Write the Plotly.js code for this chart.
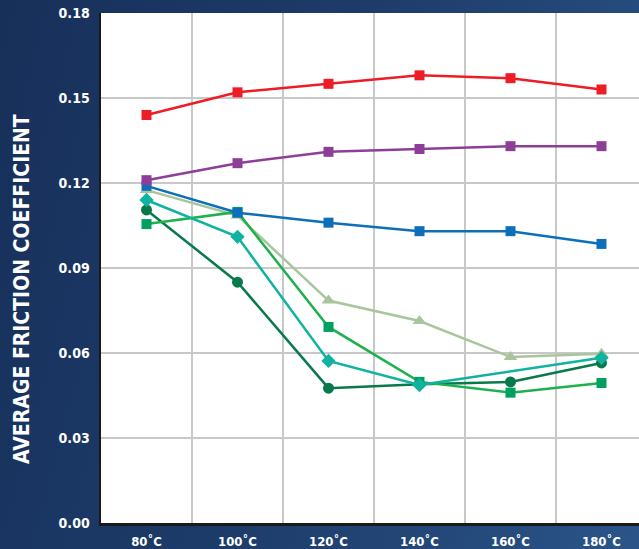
<!DOCTYPE html>
<html>
<head>
<meta charset="utf-8">
<script src="https://cdn.plot.ly/plotly-3.0.1.min.js"></script>
<style>
html,body{margin:0;padding:0;}
body{width:639px;height:549px;overflow:hidden;background:linear-gradient(105deg,#17305a 0%,#1d3b69 45%,#24487a 75%,#2b5589 100%);}
#chart{width:639px;height:549px;}
</style>
</head>
<body>
<div id="chart"></div>
<script>
const categories = ["80˚C","100˚C","120˚C","140˚C","160˚C","180˚C"];
const redValues    = [0.144, 0.152, 0.155, 0.158, 0.157, 0.153];
const purpleValues = [0.121, 0.127, 0.131, 0.132, 0.133, 0.133];
const blueValues   = [0.119, 0.1095, 0.106, 0.103, 0.103, 0.0985];
const oliveValues  = [0.1175, 0.1085, 0.0785, 0.0713, 0.0586, 0.0597];
const greenValues  = [0.1055, 0.1098, 0.0692, 0.0498, 0.0460, 0.0494];
const tealValues   = [0.114, 0.101, 0.0572, 0.0487, null, 0.0583];
const darkValues   = [0.1105, 0.085, 0.0476, 0.0490, 0.0498, 0.0565];
const yTicks = [0, 0.03, 0.06, 0.09, 0.12, 0.15, 0.18];

const xIdx = categories.map((c,i)=>i);
function series(vals, lineColor, markerColor, symbol, size){
  return {x:xIdx, y:vals, type:'scatter', mode:'lines+markers', connectgaps:true,
    line:{color:lineColor, width:2.5},
    marker:{color:markerColor, symbol:symbol, size:size},
    hoverinfo:'skip', showlegend:false, cliponaxis:false};
}
const data = [
  series(darkValues, '#08794a', '#08794a', 'circle', 11),
  series(oliveValues, '#a9c59c', '#a9c59c', 'triangle-up', 12),
  series(greenValues, '#1eb04d', '#00a060', 'square', 10),
  series(tealValues, '#10b3a0', '#10b3a0', 'diamond', 11),
  series(blueValues, '#0d6fba', '#0d6fba', 'square', 10),
  series(purpleValues, '#8d3f98', '#8d3f98', 'square', 10),
  series(redValues, '#ee1c25', '#ee1c25', 'square', 10)
];
const fam = '"DejaVu Sans Condensed","Liberation Sans Narrow",Arial,sans-serif';
const layout = {
  width:639, height:549,
  margin:{l:101, r:0, t:13, b:26, pad:0},
  paper_bgcolor:'rgba(0,0,0,0)',
  plot_bgcolor:'#ffffff',
  font:{family:fam, color:'#ffffff', size:14, weight:'bold'},
  xaxis:{
    range:[-0.5, (639-101)/91 - 0.5],
    tickmode:'array', tickvals:xIdx, ticktext:categories,
    showgrid:false, zeroline:false,
    showline:true, linecolor:'#1a1a1a', linewidth:2.5,
    ticks:'outside', ticklen:5, tickcolor:'rgba(0,0,0,0)',
    tickfont:{family:fam, color:'#ffffff', size:13, weight:'bold'},
    minor:{tickmode:'array', tickvals:[-0.5,0.5,1.5,2.5,3.5,4.5,5.5], showgrid:true, gridcolor:'#c8c8c8', gridwidth:2.5, ticks:''},
    fixedrange:true
  },
  yaxis:{
    range:[0,0.18],
    tickmode:'array', tickvals:yTicks, ticktext:yTicks.map(v=>v.toFixed(2)),
    showgrid:true, gridcolor:'#c8c8c8', gridwidth:2.5,
    zeroline:false,
    showline:true, linecolor:'#1a1a1a', linewidth:2.5,
    ticks:'outside', ticklen:6, tickcolor:'rgba(0,0,0,0)',
    tickfont:{family:fam, color:'#ffffff', size:14, weight:'bold'},
    fixedrange:true
  },
  annotations:[{
    text:'AVERAGE FRICTION COEFFICIENT', xref:'paper', yref:'paper',
    x:-101/538, y:(523-289)/510, xanchor:'center', yanchor:'middle',
    textangle:-90, showarrow:false, xshift:22,
    font:{family:fam, color:'#ffffff', size:21, weight:'bold'}
  }]
};
Plotly.newPlot('chart', data, layout, {displayModeBar:false, staticPlot:true});
</script>
</body>
</html>
